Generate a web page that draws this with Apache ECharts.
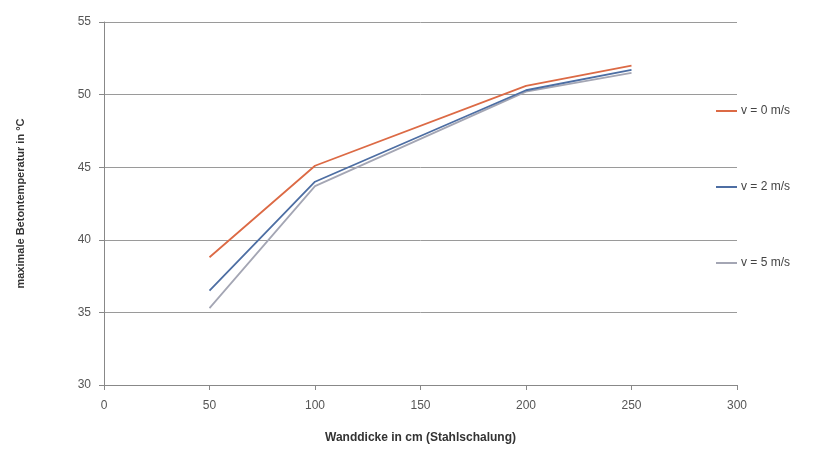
<!DOCTYPE html>
<html><head><meta charset="utf-8">
<script src="https://cdn.jsdelivr.net/npm/echarts@6/dist/echarts.min.js"></script>
<style>html,body{margin:0;padding:0;background:#fff}#c{width:834px;height:455px}</style>
</head><body><div id="c"></div>
<script>
const xValues = [50, 100, 200, 250];
const seriesNames = ['v = 0 m/s', 'v = 2 m/s', 'v = 5 m/s'];
const v0 = [38.8, 45.1, 50.6, 52.0];
const v2 = [36.5, 44.0, 50.3, 51.7];
const v5 = [35.3, 43.7, 50.2, 51.5];
const colors = ['#dc6a45', '#4d6ea3', '#a4a6b4'];
const font = 'Liberation Sans, Arial, sans-serif';
const mk = (name, vals, i) => ({
  name, type: 'line', data: xValues.map((x, k) => [x, vals[k]]),
  symbol: 'none', lineStyle: { color: colors[i], width: 1.8 }, itemStyle: { color: colors[i] },
  z: 3 - i
});
const chart = echarts.init(document.getElementById('c'));
chart.setOption({
  animation: false,
  grid: { left: 104, right: 97, top: 22, bottom: 70 },
  xAxis: {
    type: 'value', min: 0, max: 300, interval: 50,
    name: 'Wanddicke in cm (Stahlschalung)', nameLocation: 'middle', nameGap: 47,
    nameTextStyle: { fontFamily: font, fontSize: 12, fontWeight: 'bold', color: '#333' },
    axisLine: { lineStyle: { color: '#888', width: 1 } },
    axisTick: { show: true, length: 5, lineStyle: { color: '#888' } },
    axisLabel: { fontFamily: font, fontSize: 12, color: '#555', margin: 15 },
    splitLine: { show: false }
  },
  yAxis: {
    type: 'value', min: 30, max: 55, interval: 5,
    name: 'maximale Betontemperatur in °C', nameLocation: 'middle', nameGap: 78,
    nameTextStyle: { fontFamily: font, fontSize: 11, fontWeight: 'bold', color: '#333' },
    axisLine: { show: true, lineStyle: { color: '#888', width: 1 } },
    axisTick: { show: true, length: 5, lineStyle: { color: '#888' } },
    axisLabel: { fontFamily: font, fontSize: 12, color: '#555', margin: 13 },
    splitLine: { show: true, lineStyle: { color: '#9a9a9a', width: 1 } }
  },
  legend: {
    orient: 'vertical', left: 711, top: 100, itemGap: 64,
    icon: 'rect', itemWidth: 21, itemHeight: 2, itemStyle: { borderWidth: 0 },
    textStyle: { fontFamily: font, fontSize: 12, color: '#444', padding: [0, 0, 0, -1] },
    data: seriesNames
  },
  series: [mk(seriesNames[0], v0, 0), mk(seriesNames[1], v2, 1), mk(seriesNames[2], v5, 2)]
});
</script></body></html>
